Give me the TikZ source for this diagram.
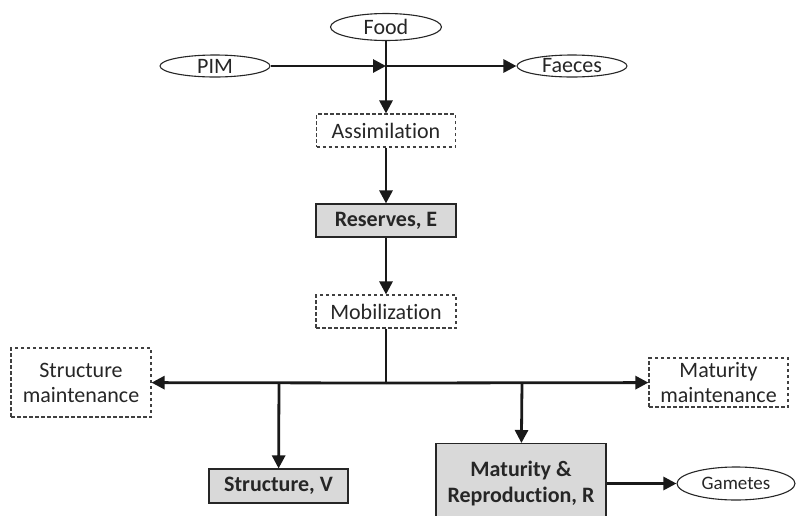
\documentclass[tikz,border=0pt]{standalone}
\usepackage{fontspec}
\setmainfont{Carlito}[Ligatures={NoCommon,NoContextual}]
\usetikzlibrary{arrows.meta,shapes.geometric}
\begin{document}
\begin{tikzpicture}[x=1pt,y=-1pt,
  every node/.style={inner sep=0pt,font=\fontsize{22}{25}\selectfont,text=black!85},
  oval/.style={ellipse,draw=black!85,line width=1.1pt,fill=white},
  dbox/.style={draw=black!75,line width=1.1pt,dash pattern=on 3.5pt off 2.5pt,align=center},
  gbox/.style={draw=black!85,line width=1.1pt,fill=black!15,font=\fontsize{22}{25}\selectfont\bfseries,align=center},
  flow/.style={line width=2.8pt,draw=black!90,-{Triangle[length=13pt,width=13pt]}},
  plain/.style={line width=2.8pt,draw=black!90}]
\useasboundingbox (0,0) rectangle (796,515);
\node[oval,minimum width=111pt,minimum height=27pt] (food) at (386,27) {Food};
\node[oval,minimum width=110pt,minimum height=22pt] (pim) at (215,66) {PIM};
\node[oval,minimum width=110pt,minimum height=22pt] (faeces) at (572,66) {Faeces};
\coordinate (j1) at (386,66);
\node[dbox,minimum width=139pt,minimum height=33pt] (assim) at (386,130.5) {Assimilation};
\node[gbox,minimum width=140pt,minimum height=33pt] (res) at (386,220.5) {Reserves, E};
\node[dbox,minimum width=140pt,minimum height=33pt] (mob) at (386,311.5) {Mobilization};
\coordinate (j2) at (386,383);
\coordinate (js) at (279,383);
\coordinate (jm) at (522,383);
\node[dbox,minimum width=140pt,minimum height=69pt] (smaint) at (81,382.5) {Structure\\maintenance};
\node[dbox,minimum width=139pt,minimum height=49pt] (mmaint) at (718.5,382.5) {Maturity\\maintenance};
\node[gbox,minimum width=139pt,minimum height=34pt] (strv) at (278.5,486) {Structure, V};
\node[gbox,minimum width=170pt,minimum height=82pt,anchor=north] (matr) at (521,443) {};
\node[font=\fontsize{22}{26}\selectfont\bfseries,align=center,text=black!85] (matrt) at (521,484) {Maturity \&\\Reproduction, R};
\node[oval,minimum width=118pt,minimum height=33pt,font=\fontsize{19}{22}\selectfont] (gam) at (736,483.5) {Gametes};
\draw[flow] (pim) -- (j1);
\draw[flow] (j1) -- (faeces);
\draw[flow] (food) -- (assim);
\draw[flow] (assim) -- (res);
\draw[flow] (res) -- (mob);
\draw[plain] (mob) -- (j2);
\draw[flow] (j2) -- (smaint);
\draw[flow] (j2) -- (mmaint);
\draw[flow] (js) -- (strv);
\draw[flow] (jm) -- (matr);
\draw[flow] (matr.east |- gam) -- (gam);
\end{tikzpicture}
\end{document}
